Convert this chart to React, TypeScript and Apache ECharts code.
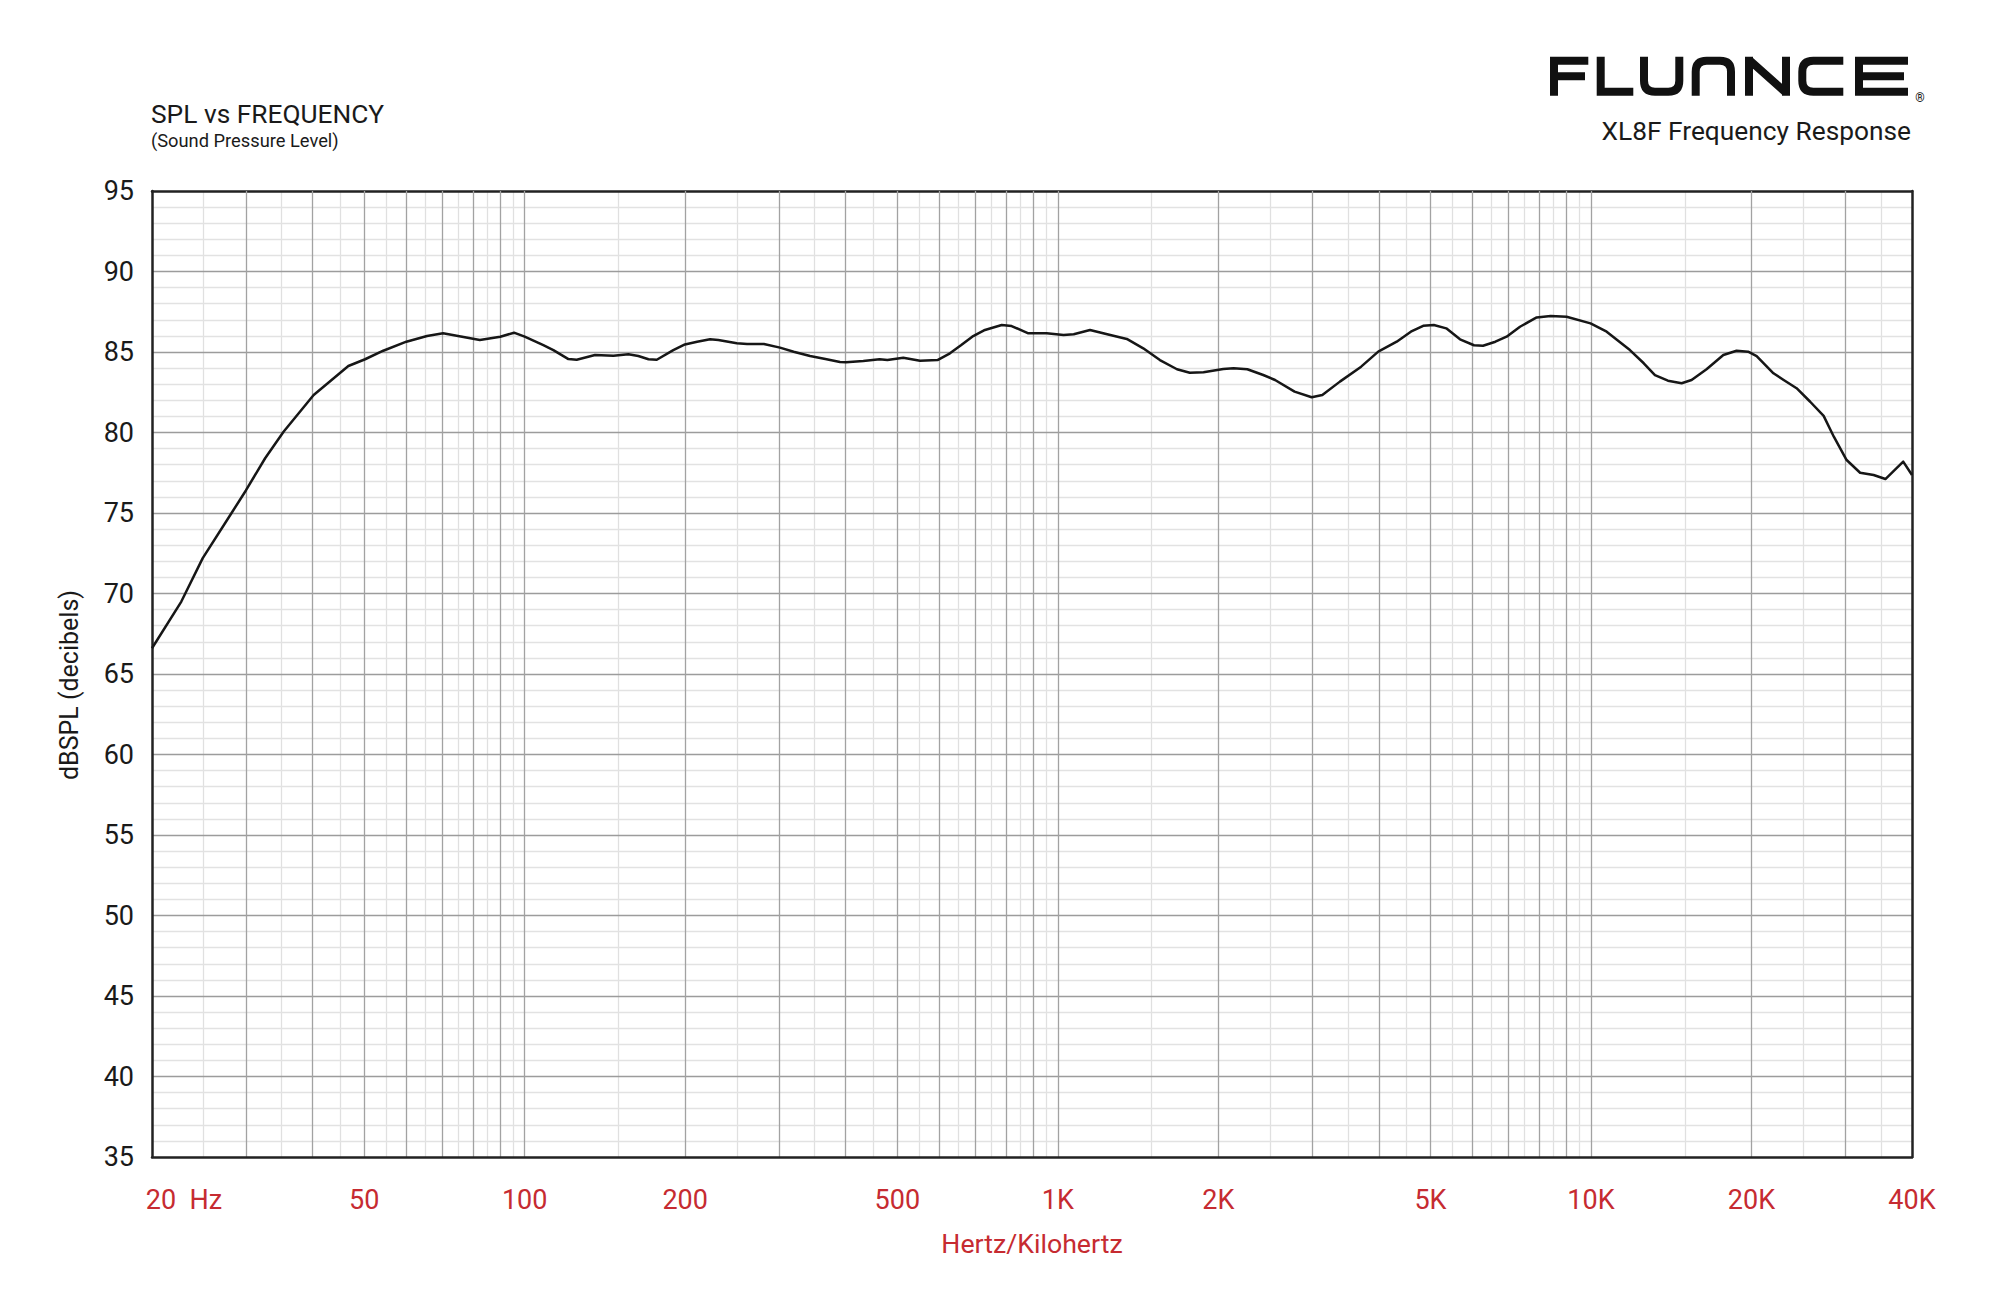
import React, { useEffect, useRef } from "react";
import * as echarts from "echarts";

// Frequency response of the XL8F (Hz, dB SPL)
const FREQ = [
  20, 22.7, 24.9, 28.2, 30, 32.6, 35.3, 40.2, 46.7, 50.2, 54.3, 60, 65.6, 70.3, 82.4, 90, 95.5, 100,
  108.4, 113.2, 120.8, 125.2, 135.5, 146.7, 156.5, 163.4, 170.7, 176.9, 190, 199.8, 210.6, 222.7,
  230.8, 250, 261.3, 281, 301.2, 319.5, 343, 366.4, 390.3, 400.7, 431.6, 463, 479, 513, 551.4,
  594.7, 627.6, 659, 691, 730, 784.8, 819, 880.4, 953, 1025, 1071, 1149, 1271, 1347, 1446, 1554,
  1673, 1768, 1876, 2043, 2136, 2267, 2428, 2555, 2780, 2993, 3134, 3381, 3706, 3990, 4321, 4593,
  4844, 5072, 5352, 5680, 6032, 6273, 6617, 6945, 7359, 7908, 8400, 9000, 9980, 10700, 11830,
  12560, 13180, 13940, 14790, 15440, 16470, 17710, 18750, 19710, 20450, 21990, 22980, 24300,
  25770, 27310, 28540, 30160, 31970, 33890, 35660, 38510, 40000,
];
const SPL = [
  66.6, 69.5, 72.2, 75.0, 76.4, 78.4, 80.05, 82.33, 84.13, 84.55, 85.08, 85.64, 85.99, 86.16, 85.75,
  85.95, 86.2, 85.95, 85.43, 85.12, 84.56, 84.52, 84.81, 84.77, 84.86, 84.75, 84.55, 84.52, 85.12,
  85.47, 85.64, 85.79, 85.75, 85.54, 85.5, 85.5, 85.27, 85.02, 84.75, 84.57, 84.38, 84.36, 84.44,
  84.55, 84.5, 84.64, 84.46, 84.5, 84.92, 85.43, 85.95, 86.37, 86.68, 86.61, 86.16, 86.16, 86.06,
  86.1, 86.37, 86.01, 85.81, 85.23, 84.5, 83.93, 83.71, 83.74, 83.94, 83.99, 83.93, 83.57, 83.26,
  82.54, 82.19, 82.33, 83.16, 84.09, 85.02, 85.64, 86.26, 86.63, 86.68, 86.47, 85.79, 85.42,
  85.39, 85.64, 85.95, 86.57, 87.15, 87.24, 87.19, 86.78, 86.26, 85.12, 84.3, 83.57, 83.22, 83.06,
  83.26, 83.93, 84.81, 85.08, 85.02, 84.75, 83.68, 83.26, 82.75, 81.91, 81.03, 79.74, 78.29, 77.5,
  77.36, 77.11, 78.19, 77.36,
];

const X_MIN = 20;
const X_MAX = 40000;
const Y_MIN = 35;
const Y_MAX = 95;
const Y_STEP = 5;

const X_LABEL_VALUES = [20, 50, 100, 200, 500, 1000, 2000, 5000, 10000, 20000, 40000];
const X_LABEL_TEXT = ["20  Hz", "50", "100", "200", "500", "1K", "2K", "5K", "10K", "20K", "40K"];

const DECADES = [10, 100, 1000, 10000];
const MAJOR_MULT = [1, 2, 3, 4, 5, 6, 7, 8, 9];
const MINOR_MULT = [1.5, 2.5, 3.5, 4.5, 5.5, 6.5, 7.5, 8.5, 9.5];

const gridValues = (mults: number[]) => {
  const out: number[] = [];
  DECADES.forEach((d) => mults.forEach((m) => {
    const v = Math.round(m * d);
    if (v > X_MIN && v < X_MAX) out.push(v);
  }));
  return out;
};
const DARK_GRID = gridValues(MAJOR_MULT);
const LIGHT_GRID = gridValues(MINOR_MULT);

const FONT = "Roboto";
const RED = "#c62b31";
const INK = "#1a1a1a";

const LOGO_D =
  "M4 39 L4 4 L38.3 4 M4 19.5 L35 19.5 " +
  "M50.7 0 L50.7 35 L83.3 35 " +
  "M94 0 L94 24 Q94 35 105 35 L118.3 35 Q129.3 35 129.3 24 L129.3 0 " +
  "M145.7 39 L145.7 15 Q145.7 4 156.7 4 L170 4 Q181 4 181 15 L181 39 " +
  "M199 39 L199 0 M236 39 L236 0 M199 3 L236 36 " +
  "M293.3 4 L263.3 4 Q252.3 4 252.3 15 L252.3 24 Q252.3 35 263.3 35 L293.3 35 " +
  "M358 4 L309 4 L309 35 L358 35 M309 19.5 L354 19.5";

let registered = false;
function registerLogo() {
  if (registered) return;
  echarts.graphic.registerShape("logo", echarts.graphic.extendPath(LOGO_D, {}));
  registered = true;
}

function labelFor(v: number) {
  let best = 0;
  let bestD = Infinity;
  X_LABEL_VALUES.forEach((lv, i) => {
    const d = Math.abs(Math.log10(v) - Math.log10(lv));
    if (d < bestD) {
      bestD = d;
      best = i;
    }
  });
  return best === 0 ? "{first|" + X_LABEL_TEXT[0] + "}" : X_LABEL_TEXT[best];
}

export default function App() {
  const ref = useRef<HTMLDivElement>(null);

  useEffect(() => {
    if (!ref.current) return;
    registerLogo();
    const chart = echarts.init(ref.current, null, { renderer: "svg" });
    const frameLine = { color: "#222", width: 2.5 };
    const option: any = {
      animation: false,
      backgroundColor: "#ffffff",
      textStyle: { fontFamily: FONT },
      title: [
        {
          text: "SPL vs FREQUENCY",
          subtext: "(Sound Pressure Level)",
          left: 151,
          top: 101,
          padding: 0,
          itemGap: 4,
          textStyle: { fontSize: 26.3, fontWeight: "normal", color: INK, fontFamily: FONT },
          subtextStyle: { fontSize: 18.3, color: INK, fontFamily: FONT },
        },
        {
          text: "XL8F Frequency Response",
          right: 89,
          top: 118,
          padding: 0,
          textStyle: { fontSize: 26.3, fontWeight: "normal", color: INK, fontFamily: FONT },
        },
      ],
      grid: { left: 152, top: 191, width: 1760, height: 966 },
      xAxis: [
        {
          type: "log",
          logBase: 10,
          min: X_MIN,
          max: X_MAX,
          position: "bottom",
          axisLine: { show: true, onZero: false, lineStyle: frameLine },
          axisTick: { show: false, customValues: DARK_GRID },
          splitLine: { show: true, lineStyle: { color: "#a2a2a2", width: 1.3 } },
          axisLabel: {
            customValues: X_LABEL_VALUES,
            formatter: (v: number) => labelFor(v),
            margin: 29,
            color: RED,
            fontSize: 27,
            fontFamily: FONT,
            rich: {
              first: { padding: [0, 0, 0, 64], fontSize: 27, color: RED, fontFamily: FONT },
            },
          },
          name: "Hertz/Kilohertz",
          nameLocation: "middle",
          nameGap: 73,
          nameTextStyle: { color: RED, fontSize: 26.7, fontFamily: FONT },
          z: 3,
        },
        {
          type: "log",
          logBase: 10,
          min: X_MIN,
          max: X_MAX,
          position: "top",
          axisLine: { show: true, onZero: false, lineStyle: frameLine },
          axisTick: { show: false, customValues: LIGHT_GRID },
          axisLabel: { show: false },
          splitLine: { show: true, lineStyle: { color: "#e0e0e0", width: 1.3 } },
          z: 2,
        },
      ],
      yAxis: [
        {
          type: "value",
          min: Y_MIN,
          max: Y_MAX,
          interval: Y_STEP,
          position: "left",
          axisLine: { show: true, onZero: false, lineStyle: frameLine },
          axisTick: { show: false },
          axisLabel: { fontSize: 27, color: INK, margin: 18, fontFamily: FONT },
          splitLine: {
            show: true,
            showMinLine: false,
            showMaxLine: false,
            lineStyle: { color: "#9c9c9c", width: 1.3 },
          },
          minorTick: { show: false, splitNumber: 5 },
          minorSplitLine: { show: true, lineStyle: { color: "#e2e2e2", width: 1.3 } },
          name: "dBSPL (decibels)",
          nameLocation: "middle",
          nameGap: 70,
          nameTextStyle: { fontSize: 25, color: INK, fontFamily: FONT, padding: [0, 22, 0, 0] },
          z: 3,
        },
        {
          type: "value",
          min: Y_MIN,
          max: Y_MAX,
          interval: Y_STEP,
          position: "right",
          axisLine: { show: true, onZero: false, lineStyle: frameLine },
          axisTick: { show: false },
          axisLabel: { show: false },
          splitLine: { show: false },
          z: 3,
        },
      ],
      series: [
        {
          type: "line",
          name: "XL8F",
          xAxisIndex: 0,
          yAxisIndex: 0,
          data: FREQ.map((f, i) => [f, SPL[i]]),
          showSymbol: false,
          symbol: "none",
          smooth: false,
          lineStyle: { color: "#161616", width: 2.5, join: "round" },
          z: 10,
        },
      ],
      graphic: [
        {
          type: "logo",
          x: 1550,
          y: 56.7,
          style: { stroke: "#111", fill: "none", lineWidth: 8, lineJoin: "miter" },
        },
        {
          type: "text",
          x: 1920,
          y: 98,
          style: { text: "®", fontSize: 12, fill: "#111", align: "center", verticalAlign: "middle", fontFamily: FONT },
        },
      ],
    };
    chart.setOption(option);
    return () => chart.dispose();
  }, []);

  return (
    <div
      ref={ref}
      style={{ position: "absolute", left: 0, top: 0, width: 2000, height: 1294, background: "#fff" }}
    />
  );
}
